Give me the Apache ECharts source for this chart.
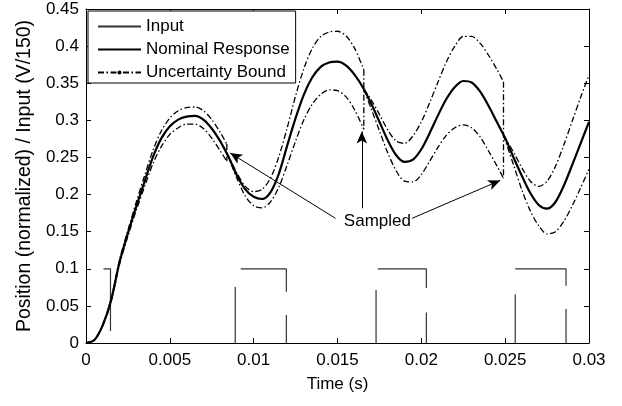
<!DOCTYPE html>
<html><head><meta charset="utf-8">
<script src="https://cdn.jsdelivr.net/npm/echarts@6/dist/echarts.min.js"></script>
<style>html,body{margin:0;padding:0;background:#fff}#c{width:622px;height:406px}</style>
</head><body><div id="c"></div>
<script>
const xTickLabels = ['0','0.005','0.01','0.015','0.02','0.025','0.03'];
const yTickLabels = ['0','0.05','0.1','0.15','0.2','0.25','0.3','0.35','0.4','0.45'];

const tNominal = [0,0.0005,0.001,0.0015,0.002,0.0025,0.003,0.0035,0.004,0.0045,0.005,0.0055,0.006,0.0065,0.007,0.0075,0.008,0.0085,0.009,0.0095,0.01,0.0105,0.011,0.0115,0.012,0.0125,0.013,0.0135,0.014,0.0145,0.015,0.0155,0.016,0.0165,0.017,0.0175,0.018,0.0185,0.019,0.0195,0.02,0.0205,0.021,0.0215,0.022,0.0225,0.023,0.0235,0.024,0.0245,0.025,0.0255,0.026,0.0265,0.027,0.0275,0.028,0.0285,0.029,0.0295,0.03];
const vNominal = [0,0.004,0.024,0.058,0.109,0.148,0.184,0.218,0.251,0.276,0.292,0.301,0.305,0.306,0.301,0.289,0.272,0.251,0.226,0.207,0.197,0.194,0.203,0.228,0.266,0.303,0.335,0.358,0.372,0.378,0.379,0.374,0.362,0.345,0.323,0.298,0.273,0.253,0.244,0.247,0.261,0.283,0.307,0.329,0.345,0.353,0.351,0.339,0.320,0.298,0.276,0.250,0.225,0.202,0.186,0.181,0.190,0.212,0.240,0.269,0.298];

const sampleTimes = [0.0084, 0.01657, 0.0249];
const tSegA = [0,0.0005,0.001,0.0015,0.002,0.0025,0.003,0.0035,0.004,0.0045,0.005,0.0055,0.006,0.0065,0.007,0.0075,0.008,0.0084];
const tSegB = [0.0084,0.009,0.0095,0.01,0.0105,0.011,0.0115,0.012,0.0125,0.013,0.0135,0.014,0.0145,0.015,0.0155,0.016,0.01657];
const tSegC = [0.01657,0.017,0.0175,0.018,0.0185,0.019,0.0195,0.02,0.0205,0.021,0.0215,0.022,0.0225,0.023,0.0235,0.024,0.0245,0.0249];
const tSegD = [0.0249,0.0255,0.026,0.0265,0.027,0.0275,0.028,0.0285,0.029,0.0295,0.03];

const upperA = [0,0.004,0.025,0.060,0.112,0.152,0.190,0.226,0.260,0.286,0.303,0.313,0.317,0.318,0.313,0.301,0.284,0.268];
const upperB = [0.256,0.229,0.211,0.204,0.207,0.222,0.251,0.290,0.333,0.370,0.397,0.413,0.419,0.420,0.414,0.398,0.368];
const upperC = [0.342,0.328,0.308,0.287,0.272,0.269,0.279,0.298,0.324,0.352,0.379,0.400,0.413,0.413,0.404,0.388,0.369,0.352];
const upperD = [0.280,0.257,0.236,0.218,0.211,0.218,0.238,0.267,0.299,0.331,0.361];

const lowerA = [0,0.004,0.023,0.056,0.106,0.144,0.179,0.211,0.242,0.265,0.281,0.290,0.295,0.295,0.289,0.276,0.259,0.245];
const lowerB = [0.256,0.222,0.198,0.185,0.182,0.190,0.210,0.240,0.272,0.301,0.322,0.335,0.341,0.340,0.332,0.315,0.288];
const lowerC = [0.342,0.316,0.286,0.256,0.232,0.218,0.217,0.227,0.245,0.264,0.280,0.290,0.294,0.290,0.278,0.259,0.239,0.222];
const lowerD = [0.280,0.240,0.206,0.178,0.158,0.147,0.150,0.164,0.185,0.209,0.234];

// Input pulses (null = pen lifted)
const inputT = [0.00104,0.00146,0.00146,null, 0.0089,0.0089,null, 0.00923,0.01195,0.01195,null, 0.01195,0.01195,null, 0.0173,0.0173,null, 0.0174,0.0203,0.0203,null, 0.0203,0.0203,null, 0.0256,0.0256,null, 0.0256,0.02863,0.02863,null, 0.02863,0.02863];
const inputV = [0.1,0.1,0.016,null, 0,0.0753,null, 0.1,0.1,0.069,null, 0.0377,0,null, 0,0.0714,null, 0.1,0.1,0.074,null, 0.041,0,null, 0,0.0656,null, 0.1,0.1,0.077,null, 0.0458,0];

// "Sampled" annotation (data coordinates)
const sampledLabelPos = [0.01738, 0.164];
const arrowFrom = [[0.01488,0.168],[0.01645,0.1815],[0.01945,0.168]];
const arrowTo   = [[0.0086,0.256],[0.01645,0.285],[0.0247,0.219]];

const FONT = 'Liberation Sans, Arial, Helvetica, sans-serif';
const pairs = (t, v) => t.map((x, i) => (x === null ? '-' : [x, v[i]]));

const boundStyle = {color:'#000', width:1.3, type:[6,2.5,1.5,2.5]};
const upperSegs = [[tSegA,upperA],[tSegB,upperB],[tSegC,upperC],[tSegD,upperD]];
const lowerSegs = [[tSegA,lowerA],[tSegB,lowerB],[tSegC,lowerC],[tSegD,lowerD]];

const boundSeries = [];
upperSegs.concat(lowerSegs).forEach((s, k) => {
  boundSeries.push({
    name:'Uncertainty Bound', type:'line', data:pairs(s[0], s[1]),
    smooth:0.3, symbol: k === 0 ? 'circle' : 'none', showSymbol:false,
    itemStyle:{color:'#000'}, lineStyle:boundStyle, z:3
  });
});
sampleTimes.forEach((ts, i) => {
  const u = upperSegs[i][1], l = lowerSegs[i][1];
  boundSeries.push({
    name:'Uncertainty Bound', type:'line', symbol:'none',
    data:[[ts, u[u.length-1]],[ts, l[l.length-1]]],
    lineStyle:boundStyle, z:3
  });
});

const axisCommon = {
  axisLine:{show:true, onZero:false, lineStyle:{color:'#000', width:1}},
  axisTick:{show:true, inside:true, length:5, lineStyle:{color:'#000', width:1}},
  splitLine:{show:false}
};

const option = {
  animation:false,
  backgroundColor:'#fff',
  textStyle:{fontFamily:FONT},
  grid:{left:86, right:33, top:9, bottom:63},
  legend:{
    orient:'vertical', left:88, top:11, selectedMode:false,
    itemWidth:43, itemHeight:5, itemGap:6,
    padding:[7,6,2,9],
    backgroundColor:'#fff', borderColor:'#000', borderWidth:1,
    textStyle:{color:'#000', fontSize:17, fontFamily:FONT},
    data:[
      {name:'Input', itemStyle:{color:'rgba(0,0,0,0)', borderWidth:0, opacity:0}},
      {name:'Nominal Response', itemStyle:{color:'rgba(0,0,0,0)', borderWidth:0, opacity:0}},
      {name:'Uncertainty Bound'}
    ]
  },
  xAxis:[
    Object.assign({type:'value', min:0, max:0.03, interval:0.005, position:'bottom',
      axisLabel:{color:'#000', fontSize:17, fontFamily:FONT, margin:9,
        formatter:(v)=>xTickLabels[Math.round(v/0.005)]},
      name:'Time (s)', nameLocation:'middle', nameGap:33,
      nameTextStyle:{color:'#000', fontSize:17, fontFamily:FONT}}, axisCommon),
    Object.assign({type:'value', min:0, max:0.03, interval:0.005, position:'top',
      axisLabel:{show:false}}, axisCommon)
  ],
  yAxis:[
    Object.assign({type:'value', min:0, max:0.45, interval:0.05, position:'left',
      axisLabel:{color:'#000', fontSize:17, fontFamily:FONT, margin:7,
        formatter:(v)=>yTickLabels[Math.round(v/0.05)]},
      name:'Position (normalized) / Input (V/150)', nameLocation:'middle', nameGap:51,
      nameTextStyle:{color:'#000', fontSize:19.5, fontFamily:FONT}}, axisCommon),
    Object.assign({type:'value', min:0, max:0.45, interval:0.05, position:'right',
      axisLabel:{show:false}}, axisCommon)
  ],
  series:[
    {name:'Input', type:'line', data:pairs(inputT, inputV), symbol:'none',
     connectNulls:false, lineStyle:{color:'#333', width:1.2}, itemStyle:{color:'#333'}, z:2},
    {name:'Nominal Response', type:'line', data:pairs(tNominal, vNominal), symbol:'none',
     smooth:0.3, lineStyle:{color:'#000', width:2.2}, itemStyle:{color:'#000'}, z:4,
     markLine:{silent:true, symbol:['none','arrow'], symbolSize:[8,12], animation:false,
       lineStyle:{color:'#000', width:1, type:'solid'}, label:{show:false},
       emphasis:{disabled:true},
       data: arrowFrom.map((f, i) => [{coord:f}, {coord:arrowTo[i]}])},
     markPoint:{silent:true, animation:false, symbol:'circle', symbolSize:1,
       itemStyle:{color:'rgba(0,0,0,0)'},
       label:{show:true, position:'inside', formatter:'Sampled', color:'#000', fontSize:17, fontFamily:FONT},
       data:[{coord:sampledLabelPos}]}
    }
  ].concat(boundSeries)
};

const chart = echarts.init(document.getElementById('c'), null, {renderer:'canvas'});
chart.setOption(option);
</script>
</body></html>
